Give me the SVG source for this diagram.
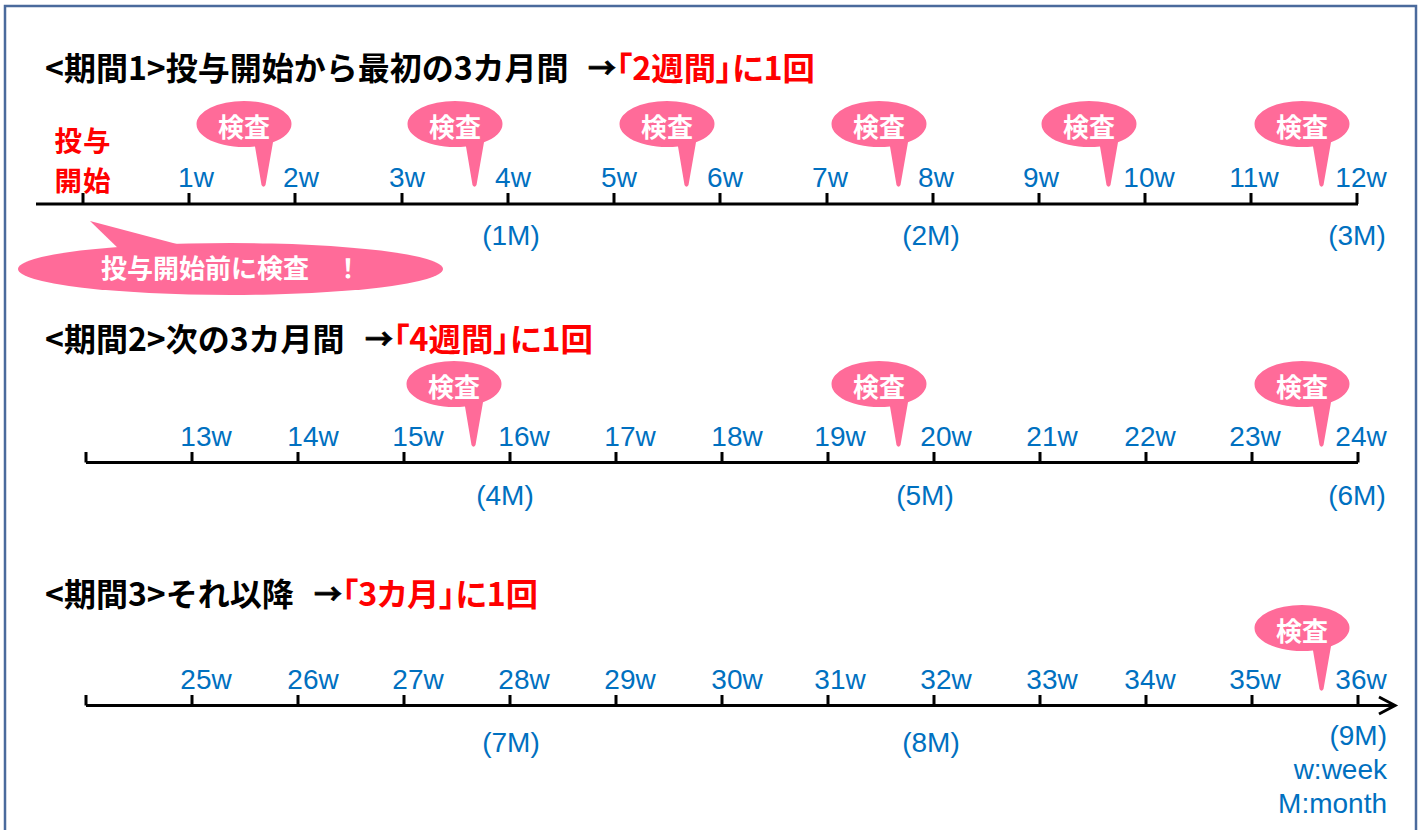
<svg xmlns="http://www.w3.org/2000/svg" xmlns:xlink="http://www.w3.org/1999/xlink" width="1421" height="830" viewBox="0 0 1421 830">
<style>
.ttl{font-family:"Noto Sans CJK JP",sans-serif;font-weight:bold;font-size:32px;fill:#000}
.red{font-family:"Noto Sans CJK JP",sans-serif;font-weight:bold;font-size:32px;fill:#ff0000;font-feature-settings:"palt"}
.arr{font-family:"Noto Sans CJK JP",sans-serif;font-weight:bold;font-size:28px;fill:#000;stroke:#000;stroke-width:0.8;text-anchor:middle}
.wk{font-family:"Liberation Sans",Arial,sans-serif;font-size:28px;fill:#0070c0;text-anchor:middle}
.wkr{font-family:"Liberation Sans",Arial,sans-serif;font-size:28px;fill:#0070c0;text-anchor:end}
.bt{font-family:"Noto Sans CJK JP",sans-serif;font-weight:bold;font-size:26px;fill:#fff;text-anchor:middle}
.st{font-family:"Noto Sans CJK JP",sans-serif;font-weight:bold;font-size:27.5px;fill:#ff0000;text-anchor:middle;letter-spacing:1px}
.pink{fill:#ff6b99}
.axis{stroke:#000;stroke-width:3;fill:none}
</style>
<defs>
<path id="bubble" d="M -47.5 0 A 47.5 23 0 1 1 47.5 0 A 47.5 23 0 0 1 29 18.2 L 21.5 61 Q 19.5 64.5 17.5 61 L 11 22.4 A 47.5 23 0 0 1 -47.5 0 Z"/>
</defs>
<rect x="0" y="0" width="1421" height="830" fill="#fff"/>
<rect id="frame" x="5" y="6" width="1411" height="850" fill="#fff" stroke="#4a6a9c" stroke-width="2.5"/>

<g id="title1">
<text class="ttl" x="45" y="80">&lt;期間1&gt;投与開始から最初の3カ月間</text>
<text class="arr" x="602" y="79">→</text>
<text class="red" x="616" y="80" textLength="199" lengthAdjust="spacingAndGlyphs">「2週間」に1回</text>
</g>
<g id="title2">
<text class="ttl" x="45" y="351">&lt;期間2&gt;次の3カ月間</text>
<text class="arr" x="379" y="350">→</text>
<text class="red" x="393" y="351" textLength="200" lengthAdjust="spacingAndGlyphs">「4週間」に1回</text>
</g>
<g id="title3">
<text class="ttl" x="45" y="606">&lt;期間3&gt;それ以降</text>
<text class="arr" x="328" y="605">→</text>
<text class="red" x="342" y="606" textLength="196" lengthAdjust="spacingAndGlyphs">「3カ月」に1回</text>
</g>

<g id="start-label">
<text class="st" x="83" y="151">投与</text>
<text class="st" x="83" y="191">開始</text>
</g>

<g id="connectors">
<path class="axis" d="M36 204 H1358 M83 193 V204 M189 193 V204 M295 193 V204 M402 193 V204 M508 193 V204 M614 193 V204 M720 193 V204 M827 193 V204 M933 193 V204 M1039 193 V204 M1145 193 V204 M1251 193 V204 M1357 193 V204"/>
<path class="axis" d="M86 462.5 H1358 M86 452 V462.5 M192 452 V462.5 M298 452 V462.5 M404 452 V462.5 M510 452 V462.5 M616 452 V462.5 M722 452 V462.5 M828 452 V462.5 M934 452 V462.5 M1040 452 V462.5 M1146 452 V462.5 M1252 452 V462.5 M1358 452 V462.5"/>
<path class="axis" d="M86 705.5 H1394 M86 695 V705.5 M192 695 V705.5 M298 695 V705.5 M404 695 V705.5 M510 695 V705.5 M616 695 V705.5 M722 695 V705.5 M828 695 V705.5 M934 695 V705.5 M1040 695 V705.5 M1146 695 V705.5 M1252 695 V705.5 M1358 695 V705.5"/>
<path class="axis" d="M1379 697 L1395 705.5 L1379 714"/>
</g>

<g id="labels1">
<text class="wk" x="196" y="187">1w</text>
<text class="wk" x="301" y="187">2w</text>
<text class="wk" x="407" y="187">3w</text>
<text class="wk" x="513" y="187">4w</text>
<text class="wk" x="619" y="187">5w</text>
<text class="wk" x="725" y="187">6w</text>
<text class="wk" x="830" y="187">7w</text>
<text class="wk" x="936" y="187">8w</text>
<text class="wk" x="1041" y="187">9w</text>
<text class="wk" x="1149" y="187">10w</text>
<text class="wk" x="1254" y="187">11w</text>
<text class="wk" x="1361" y="187">12w</text>
<text class="wk" x="511" y="245">(1M)</text>
<text class="wk" x="931" y="245">(2M)</text>
<text class="wk" x="1357" y="245">(3M)</text>
</g>
<g id="labels2">
<text class="wk" x="206" y="446">13w</text>
<text class="wk" x="313" y="446">14w</text>
<text class="wk" x="418" y="446">15w</text>
<text class="wk" x="524" y="446">16w</text>
<text class="wk" x="630" y="446">17w</text>
<text class="wk" x="737" y="446">18w</text>
<text class="wk" x="840" y="446">19w</text>
<text class="wk" x="946" y="446">20w</text>
<text class="wk" x="1052" y="446">21w</text>
<text class="wk" x="1150" y="446">22w</text>
<text class="wk" x="1255" y="446">23w</text>
<text class="wk" x="1361" y="446">24w</text>
<text class="wk" x="505" y="505">(4M)</text>
<text class="wk" x="925" y="505">(5M)</text>
<text class="wk" x="1357" y="505">(6M)</text>
</g>
<g id="labels3">
<text class="wk" x="206" y="689">25w</text>
<text class="wk" x="313" y="689">26w</text>
<text class="wk" x="418" y="689">27w</text>
<text class="wk" x="524" y="689">28w</text>
<text class="wk" x="630" y="689">29w</text>
<text class="wk" x="737" y="689">30w</text>
<text class="wk" x="840" y="689">31w</text>
<text class="wk" x="946" y="689">32w</text>
<text class="wk" x="1052" y="689">33w</text>
<text class="wk" x="1150" y="689">34w</text>
<text class="wk" x="1255" y="689">35w</text>
<text class="wk" x="1361" y="689">36w</text>
<text class="wk" x="511" y="752">(7M)</text>
<text class="wk" x="931" y="752">(8M)</text>
<text class="wkr" x="1387" y="745">(9M)</text>
<text class="wkr" x="1387" y="779">w:week</text>
<text class="wkr" x="1387" y="813">M:month</text>
</g>

<g id="callout-pre">
<ellipse class="pink" cx="230.5" cy="269" rx="212.5" ry="26"/>
<polygon class="pink" points="122,252 90,221 207,252"/>
<text class="bt" x="101" y="278" style="text-anchor:start">投与開始前に検査　！</text>
</g>

<g id="check1" transform="translate(244 124)"><use href="#bubble" class="pink"/><text class="bt" x="0" y="13">検査</text></g>
<g id="check2" transform="translate(455 124)"><use href="#bubble" class="pink"/><text class="bt" x="0" y="13">検査</text></g>
<g id="check3" transform="translate(667 124)"><use href="#bubble" class="pink"/><text class="bt" x="0" y="13">検査</text></g>
<g id="check4" transform="translate(879 124)"><use href="#bubble" class="pink"/><text class="bt" x="0" y="13">検査</text></g>
<g id="check5" transform="translate(1089 124)"><use href="#bubble" class="pink"/><text class="bt" x="0" y="13">検査</text></g>
<g id="check6" transform="translate(1302 124)"><use href="#bubble" class="pink"/><text class="bt" x="0" y="13">検査</text></g>
<g id="check7" transform="translate(454 384)"><use href="#bubble" class="pink"/><text class="bt" x="0" y="13">検査</text></g>
<g id="check8" transform="translate(879 384)"><use href="#bubble" class="pink"/><text class="bt" x="0" y="13">検査</text></g>
<g id="check9" transform="translate(1302 384)"><use href="#bubble" class="pink"/><text class="bt" x="0" y="13">検査</text></g>
<g id="check10" transform="translate(1302 628)"><use href="#bubble" class="pink"/><text class="bt" x="0" y="13">検査</text></g>
</svg>
